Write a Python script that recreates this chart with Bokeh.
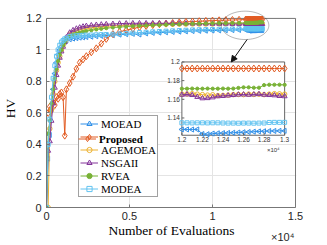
import math
from bokeh.plotting import figure
from bokeh.models import (Range1d, FixedTicker, Legend, LegendItem, PolyAnnotation,
                          Arrow, NormalHead, LinearAxis)
from bokeh.core.properties import value
from bokeh.embed import file_html
from bokeh.resources import INLINE

NAN = float("nan")

# ---------------- data ----------------
EVALS_HEAD = [0, 100, 200, 300, 400, 500, 600, 700, 800, 900, 1000, 1100, 1200,
              1400, 1600, 1800, 2000, 2200, 2400,
              2700, 3000, 3300, 3600,
              4000, 4400, 4800, 5200, 5600, 6000, 6400, 6800, 7200, 7600,
              8000, 8400, 8800, 9200, 9600, 10000, 10400, 10800, 11200, 11600]
EVALS_TAIL = [12000, 12050, 12100, 12150, 12200, 12250, 12300, 12350, 12400, 12450,
              12500, 12550, 12600, 12650, 12700, 12750, 12800, 12850, 12900, 12950, 13000]

MOEAD_HEAD = [0, 0.31, 0.46, 0.62, 0.75, 0.85, 0.92, 0.97, 1.00, 1.02, 1.04, 1.05, 1.06,
              1.068, 1.072, 1.075, 1.078, 1.080, 1.082,
              1.084, 1.087, 1.089, 1.091,
              1.094, 1.097, 1.100, 1.102, 1.098, 1.105, 1.108, 1.110, 1.112, 1.114,
              1.116, 1.118, 1.120, 1.121, 1.122, 1.123, 1.124, 1.125, 1.126, 1.127]
MOEAD_TAIL = [1.1277, 1.1277, 1.1276, 1.1277, 1.1228, 1.1226, 1.1233, 1.1236, 1.1238, 1.1240,
              1.1242, 1.1244, 1.1247, 1.1250, 1.1253, 1.1256, 1.1258, 1.1260, 1.1261, 1.1262, 1.1262]

PROPOSED_HEAD = [NAN, 0.60, 0.64, 0.62, 0.67, 0.65, 0.70, 0.69, 0.72, 0.73, 0.70, 0.456, 0.75,
                 0.79, 0.83, 0.88, 0.92, 0.94, 0.96,
                 0.985, 1.01, 1.04, 1.07,
                 1.100, 1.115, 1.125, 1.135, 1.145, 1.152, 1.158, 1.163, 1.167, 1.171,
                 1.175, 1.178, 1.180, 1.182, 1.184, 1.186, 1.188, 1.189, 1.190, 1.191]
PROPOSED_TAIL = [1.193, 1.193, 1.193, 1.193, 1.193, 1.193, 1.193, 1.193, 1.193, 1.193,
                 1.193, 1.193, 1.193, 1.193, 1.193, 1.193, 1.193, 1.193, 1.193, 1.193, 1.193]

AGEMOEA_HEAD = [0, 0, 0.50, 0.62, 0.72, 0.80, 0.87, 0.92, 0.96, 1.00, 1.03, 1.05, 1.07,
                1.100, 1.110, 1.120, 1.127, 1.132, 1.136,
                1.141, 1.145, 1.148, 1.150,
                1.153, 1.155, 1.157, 1.158, 1.159, 1.160, 1.161, 1.162, 1.163, 1.163,
                1.164, 1.164, 1.165, 1.165, 1.165, 1.165, 1.166, 1.166, 1.166, 1.166]
AGEMOEA_TAIL = [1.1655, 1.1657, 1.1660, 1.1655, 1.1650, 1.1645, 1.1648, 1.1640, 1.1642, 1.1645,
                1.1650, 1.1652, 1.1650, 1.1655, 1.1652, 1.1655, 1.1650, 1.1655, 1.1660, 1.1658, 1.1655]

NSGAII_HEAD = [0, 0.36, 0.42, 0.55, 0.66, 0.76, 0.84, 0.90, 0.95, 0.99, 1.02, 1.05, 1.08,
               1.110, 1.125, 1.135, 1.142, 1.148, 1.152,
               1.156, 1.159, 1.161, 1.163,
               1.165, 1.167, 1.168, 1.169, 1.169, 1.169, 1.169, 1.169, 1.169, 1.168,
               1.168, 1.168, 1.167, 1.167, 1.167, 1.166, 1.166, 1.166, 1.165, 1.165]
NSGAII_TAIL = [1.1648, 1.1652, 1.1645, 1.1625, 1.1610, 1.1612, 1.1620, 1.1632, 1.1635, 1.1640,
               1.1645, 1.1650, 1.1652, 1.1648, 1.1652, 1.1655, 1.1648, 1.1645, 1.1642, 1.1635, 1.1632]

RVEA_HEAD = [0, 0.47, 0.55, 0.66, 0.75, 0.82, 0.88, 0.93, 0.97, 1.00, 1.03, 1.05, 1.07,
             1.090, 1.098, 1.105, 1.110, 1.115, 1.120,
             1.125, 1.130, 1.134, 1.138,
             1.142, 1.145, 1.148, 1.151, 1.153, 1.155, 1.157, 1.158, 1.160, 1.162,
             1.163, 1.165, 1.166, 1.167, 1.168, 1.169, 1.170, 1.170, 1.171, 1.171]
RVEA_TAIL = [1.1714, 1.1714, 1.1715, 1.1714, 1.1714, 1.1715, 1.1714, 1.1714, 1.1715, 1.1714,
             1.1715, 1.1722, 1.1728, 1.1728, 1.1724, 1.1724, 1.1752, 1.1756, 1.1756, 1.1756, 1.1755]

MODEA_HEAD = [0, 0.40, 0.56, 0.70, 0.82, 0.90, 0.96, 1.00, 1.03, 1.05, 1.06, 1.07, 1.075,
              1.085, 1.088, 1.090, 1.092, 1.093, 1.094,
              1.095, 1.096, 1.097, 1.098,
              1.100, 1.102, 1.105, 1.107, 1.110, 1.112, 1.115, 1.117, 1.119, 1.121,
              1.123, 1.125, 1.127, 1.128, 1.129, 1.130, 1.131, 1.132, 1.133, 1.134]
MODEA_TAIL = [1.1348, 1.1348, 1.1347, 1.1348, 1.1348, 1.1347, 1.1348, 1.1348, 1.1346, 1.1345,
              1.1345, 1.1344, 1.1345, 1.1345, 1.1344, 1.1345, 1.1346, 1.1352, 1.1353, 1.1353, 1.1353]

SERIES_NAMES = ["MOEAD", "Proposed", "AGEMOEA", "NSGAII", "RVEA", "MODEA"]
HEADS = [MOEAD_HEAD, PROPOSED_HEAD, AGEMOEA_HEAD, NSGAII_HEAD, RVEA_HEAD, MODEA_HEAD]
TAILS = [MOEAD_TAIL, PROPOSED_TAIL, AGEMOEA_TAIL, NSGAII_TAIL, RVEA_TAIL, MODEA_TAIL]

X_TICKS = [0, 5000, 10000, 15000]
X_TICK_LABELS = ["0", "0.5", "1", "1.5"]
Y_TICKS = [0, 0.2, 0.4, 0.6, 0.8, 1, 1.2]
Y_TICK_LABELS = ["0", "0.2", "0.4", "0.6", "0.8", "1", "1.2"]
X_EXPONENT = "×10⁴"
XLIM = (0, 15000)
YLIM = (0, 1.2)

INSET_XLIM = (12000, 13000)
INSET_YLIM = (1.1215, 1.2)
INSET_X_TICKS = [12000, 12200, 12400, 12600, 12800, 13000]
INSET_X_TICK_LABELS = ["1.2", "1.22", "1.24", "1.26", "1.28", "1.3"]
INSET_Y_TICKS = [1.14, 1.16, 1.18, 1.2]
INSET_Y_TICK_LABELS = ["1.14", "1.16", "1.18", "1.2"]

# ---------------- layout / style ----------------
COLORS = ["#2F8FE8", "#E25B22", "#EDB230", "#84359A", "#79B236", "#62C3F0"]
MARKERS = [
    dict(marker="triangle", angle=math.pi / 2, size=5, fill=False),
    dict(marker="diamond", angle=0, size=7, fill=False),
    dict(marker="circle", angle=0, size=4.5, fill=False),
    dict(marker="triangle", angle=0, size=5, fill=False),
    dict(marker="circle", angle=0, size=3.2, fill=True),
    dict(marker="square", angle=0, size=4, fill=False),
]
SERIF = "Liberation Serif"
SANS = "Liberation Sans"
AXC = "#777777"

W, H = 327, 245
PLOT_W, PLOT_H = 252, 191          # pixel size of the data box
EXTRA_R, EXTRA_T = 1, 9            # frame extends beyond the data box (room for ellipse)
BL, BB = 43, 36
BR = W - BL - PLOT_W - EXTRA_R
BT = H - BB - PLOT_H - EXTRA_T
XR_END = XLIM[1] + EXTRA_R * (XLIM[1] - XLIM[0]) / PLOT_W
YR_END = YLIM[1] + EXTRA_T * (YLIM[1] - YLIM[0]) / PLOT_H

# inset box placement in main-data units
IBX0, IBX1, IBY0, IBY1 = 8155, 14345, 0.4586, 0.9236

p = figure(width=W, height=H, x_range=Range1d(XLIM[0], XR_END), y_range=Range1d(YLIM[0], YR_END),
           output_backend="svg", toolbar_location=None,
           min_border_left=BL, min_border_right=BR, min_border_top=BT, min_border_bottom=BB)
p.background_fill_color = "white"
p.border_fill_color = "white"
p.outline_line_color = None

kx = (INSET_XLIM[1] - INSET_XLIM[0]) / (IBX1 - IBX0)
ky = (INSET_YLIM[1] - INSET_YLIM[0]) / (IBY1 - IBY0)
p.extra_x_ranges = {"ix": Range1d(INSET_XLIM[0] + (XLIM[0] - IBX0) * kx,
                                  INSET_XLIM[0] + (XR_END - IBX0) * kx)}
p.extra_y_ranges = {"iy": Range1d(INSET_YLIM[0] + (YLIM[0] - IBY0) * ky,
                                  INSET_YLIM[0] + (YR_END - IBY0) * ky)}

# axes
p.xaxis.ticker = FixedTicker(ticks=X_TICKS)
p.yaxis.ticker = FixedTicker(ticks=Y_TICKS)
p.xaxis.bounds = XLIM
p.yaxis.bounds = YLIM
p.xaxis.major_label_overrides = {t: l for t, l in zip(X_TICKS, X_TICK_LABELS)}
p.yaxis.major_label_overrides = {t: l for t, l in zip(Y_TICKS, Y_TICK_LABELS)}
for ax in (p.xaxis, p.yaxis):
    ax.axis_line_color = AXC
    ax.major_tick_line_color = AXC
    ax.major_tick_in = 3
    ax.major_tick_out = 0
    ax.minor_tick_line_color = None
    ax.major_label_text_font = SANS
    ax.major_label_text_font_size = "11px"
    ax.major_label_text_color = "#262626"
    ax.axis_label_text_font = SERIF
    ax.axis_label_text_font_size = "13.5px"
    ax.axis_label_text_font_style = "normal"
    ax.axis_label_text_color = "#000000"
p.xaxis.major_label_standoff = 4
p.yaxis.major_label_standoff = 5
p.xaxis.axis_label = "Number of Evaluations"
p.yaxis.axis_label = "HV"
p.xaxis.axis_label_standoff = 0
p.yaxis.axis_label_standoff = 5
p.ygrid.grid_line_color = "#e4e4e4"
p.xgrid.visible = False

# exponent as a second, bare bottom axis
exp_tick = int(XLIM[1] - 13 * (XLIM[1] - XLIM[0]) / PLOT_W)
exp_axis = LinearAxis(ticker=FixedTicker(ticks=[exp_tick]),
                      major_label_overrides={exp_tick: X_EXPONENT},
                      axis_line_color=None, major_tick_line_color=None,
                      minor_tick_line_color=None, major_tick_in=0, major_tick_out=0,
                      minor_tick_in=0, minor_tick_out=0,
                      major_label_standoff=-10, major_label_text_font=SANS,
                      major_label_text_font_size="11px", major_label_text_color="#262626")
p.add_layout(exp_axis, "below")

# vertical grid lines and top/right box edges, limited to the data box
p.segment(x0=X_TICKS, y0=[YLIM[0]] * len(X_TICKS), x1=X_TICKS, y1=[YLIM[1]] * len(X_TICKS),
          line_color="#e4e4e4", line_width=1, level="underlay")
p.segment(x0=[XLIM[0], XLIM[1]], y0=[YLIM[1], YLIM[0]], x1=[XLIM[1], XLIM[1]], y1=[YLIM[1], YLIM[1]],
          line_color=AXC, line_width=1)

# main curves
main_r = {}
for name, head, tail, col, mk in zip(SERIES_NAMES, HEADS, TAILS, COLORS, MARKERS):
    xs = EVALS_HEAD + EVALS_TAIL
    ys = head + tail
    lr = p.line(xs, ys, line_color=col, line_width=1)
    sr = p.scatter(xs, ys, marker=mk["marker"], angle=mk["angle"], size=mk["size"],
                   line_color=col, line_width=1,
                   fill_color=col if mk["fill"] else None)
    main_r[name] = [lr, sr]

# inset
p.quad(left=[INSET_XLIM[0]], right=[INSET_XLIM[1]], bottom=[INSET_YLIM[0]], top=[INSET_YLIM[1]],
       x_range_name="ix", y_range_name="iy", fill_color="white", line_color="#666666",
       line_width=1)
for name, tail, col, mk in zip(SERIES_NAMES, TAILS, COLORS, MARKERS):
    p.line(EVALS_TAIL, tail, line_color=col, line_width=1, x_range_name="ix", y_range_name="iy")
    p.scatter(EVALS_TAIL, tail, marker=mk["marker"], angle=mk["angle"], size=mk["size"],
              line_color=col, line_width=1, fill_color=col if mk["fill"] else None,
              x_range_name="ix", y_range_name="iy")

ipx_w = (IBX1 - IBX0) / (XLIM[1] - XLIM[0]) * PLOT_W
ipx_h = (IBY1 - IBY0) / (YLIM[1] - YLIM[0]) * PLOT_H
dy = 2.5 / ipx_h * (INSET_YLIM[1] - INSET_YLIM[0])
dx = 2.5 / ipx_w * (INSET_XLIM[1] - INSET_XLIM[0])
p.segment(x0=INSET_X_TICKS, y0=[INSET_YLIM[0]] * len(INSET_X_TICKS),
          x1=INSET_X_TICKS, y1=[INSET_YLIM[0] + dy] * len(INSET_X_TICKS),
          line_color="#666666", line_width=1, x_range_name="ix", y_range_name="iy")
p.segment(x0=[INSET_XLIM[0]] * len(INSET_Y_TICKS), y0=INSET_Y_TICKS,
          x1=[INSET_XLIM[0] + dx] * len(INSET_Y_TICKS), y1=INSET_Y_TICKS,
          line_color="#666666", line_width=1, x_range_name="ix", y_range_name="iy")
p.text(x=INSET_X_TICKS, y=[INSET_YLIM[0]] * len(INSET_X_TICKS), text=INSET_X_TICK_LABELS,
       text_font=value(SANS), text_font_size="6.5px", text_color="#333333",
       text_align="center", text_baseline="top", y_offset=2,
       x_range_name="ix", y_range_name="iy")
p.text(x=[INSET_XLIM[0]] * len(INSET_Y_TICKS), y=INSET_Y_TICKS, text=INSET_Y_TICK_LABELS,
       text_font=value(SANS), text_font_size="6.5px", text_color="#333333",
       text_align="right", text_baseline="middle", x_offset=-2,
       x_range_name="ix", y_range_name="iy")
p.text(x=[INSET_XLIM[1]], y=[INSET_YLIM[0]], text=[X_EXPONENT],
       text_font=value(SANS), text_font_size="6px", text_color="#333333",
       text_align="right", text_baseline="top", x_offset=-5, y_offset=12,
       x_range_name="ix", y_range_name="iy")

# ellipse + arrow
ECX, ECY, EA, EB = 11964, 1.156, 1430, 0.09
ts = [2 * math.pi * k / 80 for k in range(81)]
p.add_layout(PolyAnnotation(xs=[ECX + EA * math.cos(t) for t in ts],
                            ys=[ECY + EB * math.sin(t) for t in ts],
                            fill_alpha=0, line_color="#111111", line_width=1))
p.add_layout(Arrow(end=NormalHead(size=6, fill_color="#111111", line_color="#111111", line_width=1),
                   x_start=ECX + 120, y_start=ECY - EB, x_end=11131, y_end=IBY1,
                   line_color="#111111", line_width=1))

# legends (second one overlays a bold "Proposed")
LH = 13
PAD = 1
LX, LY = 32, 10
items_a = []
for name in SERIES_NAMES:
    items_a.append(LegendItem(label=(" " if name == "Proposed" else name), renderers=main_r[name]))
common = dict(orientation="vertical", label_text_font=SERIF, label_text_font_size="11px",
              label_text_color="#000000", glyph_width=18, glyph_height=LH, label_height=LH,
              label_standoff=3, spacing=0, padding=PAD, margin=0)
legend_a = Legend(items=items_a, location=(LX, LY), border_line_color="#444444",
                  border_line_width=1, background_fill_color="white", background_fill_alpha=1,
                  **common)
top_a = LY + 2 * PAD + len(SERIES_NAMES) * LH
row1_bottom = top_a - PAD - 2 * LH
legend_b = Legend(items=[LegendItem(label="Proposed", renderers=main_r["Proposed"])],
                  location=(LX, row1_bottom - PAD), border_line_color=None,
                  background_fill_alpha=0, label_text_font_style="bold", **common)
p.add_layout(legend_a)
p.add_layout(legend_b)

open("out.html", "w").write(file_html(p, INLINE))
